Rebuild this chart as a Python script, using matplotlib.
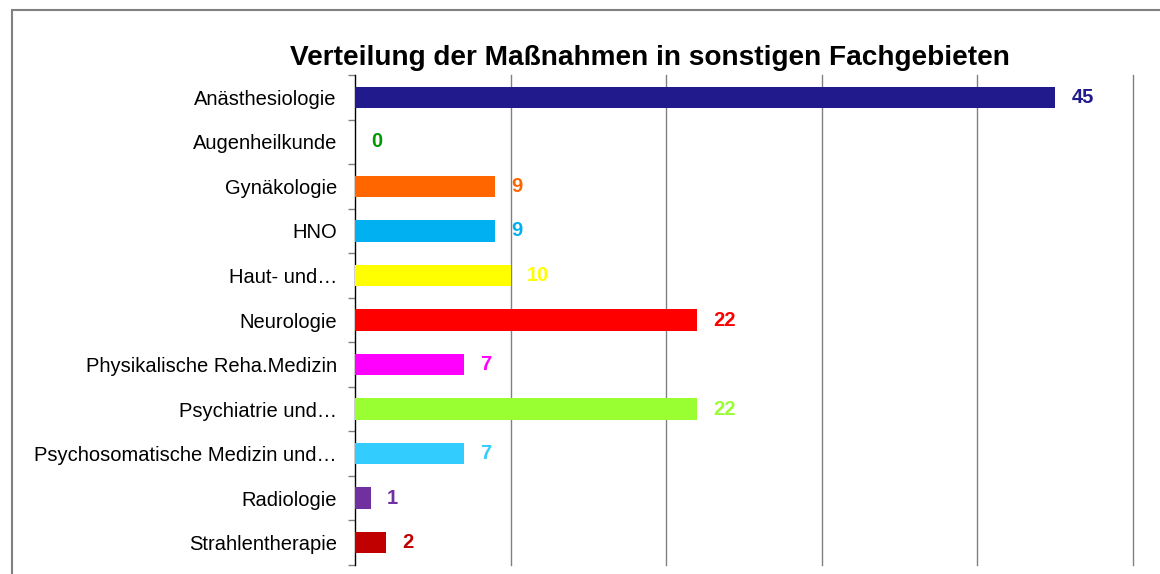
import matplotlib
matplotlib.use("Agg")
import matplotlib.pyplot as plt
from matplotlib.patches import Rectangle
import numpy as np

plt.rcParams['font.family'] = ['Liberation Sans', 'DejaVu Sans']

title = "Verteilung der Maßnahmen in sonstigen Fachgebieten"
categories = ["Anästhesiologie", "Augenheilkunde", "Gynäkologie", "HNO",
              "Haut- und\u2026", "Neurologie", "Physikalische Reha.Medizin",
              "Psychiatrie und\u2026", "Psychosomatische Medizin und\u2026",
              "Radiologie", "Strahlentherapie"]
values = [45, 0, 9, 9, 10, 22, 7, 22, 7, 1, 2]
bar_colors = ["#211A8C", "#009900", "#FF6600", "#00B0F0", "#FFFF00", "#FF0000",
              "#FF00FF", "#99FF33", "#33CCFF", "#7030A0", "#C00000"]
x_max = 50
grid_step = 10

fig = plt.figure(figsize=(11.6, 5.74), dpi=100)
fig.patches.append(Rectangle((12/1160, -0.1), 1.2, 1 - 10/574 + 0.1,
                             transform=fig.transFigure, fill=False,
                             edgecolor="#808080", linewidth=1.5))
ax = fig.add_axes([355/1160, 1 - 565/574, (1133-355)/1160, (565-75)/574])

n = len(categories)
y = np.arange(n)
ax.barh(y, values, height=0.48, color=bar_colors, zorder=3)
for yi, v, c in zip(y, values, bar_colors):
    ax.text(v + 1.05, yi, str(v), va='center', ha='left', color=c,
            fontsize=14.5, fontweight='bold', zorder=4)

ax.set_xlim(0, x_max)
ax.set_ylim(n - 0.5, -0.5)
ax.set_xticks(np.arange(0, x_max + 1, grid_step))
ax.tick_params(axis='x', length=0, labelbottom=False)
for gx in np.arange(grid_step, x_max + 1, grid_step):
    ax.axvline(gx, color='#808080', linewidth=1, zorder=0, clip_on=False)
ax.set_yticks(y)
ax.set_yticklabels(categories, fontsize=14.5)
ax.tick_params(axis='y', which='major', length=0, pad=13)
ax.set_yticks(np.arange(-0.5, n + 0.5, 1), minor=True)
ax.tick_params(axis='y', which='minor', length=5, color='#808080', width=1)
for s in ['top', 'right', 'bottom']:
    ax.spines[s].set_visible(False)
ax.spines['left'].set_color('black')
ax.spines['left'].set_linewidth(1)

fig.text(650/1160, 1 - 58/574, title, ha='center', va='center',
         fontsize=20.2, fontweight='bold')

fig.savefig("out.png", dpi=100)
